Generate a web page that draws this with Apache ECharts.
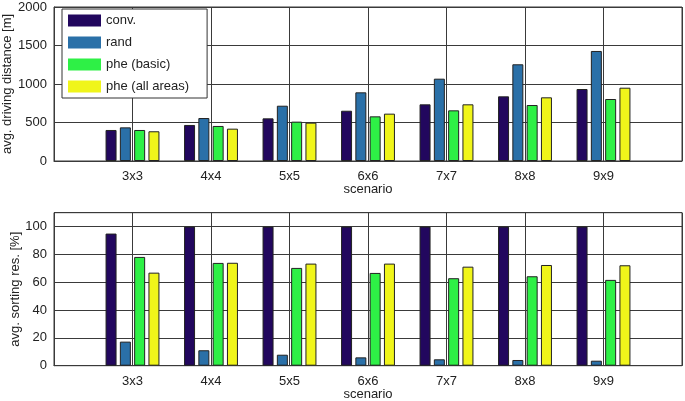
<!DOCTYPE html>
<html><head><meta charset="utf-8">
<script src="https://cdn.jsdelivr.net/npm/echarts@6/dist/echarts.min.js"></script>
<style>html,body{margin:0;padding:0;background:#fff}#c{width:685px;height:401px}</style>
</head><body><div id="c"></div>
<script>
const categories = ['', '3x3', '4x4', '5x5', '6x6', '7x7', '8x8', '9x9', ''];
const seriesNames = ['conv.', 'rand', 'phe (basic)', 'phe (all areas)'];
const colors = ['#22075e', '#2a70a8', '#2ef046', '#f0f51a'];
// avg. driving distance [m]
const distConv = [403, 468, 554, 653, 736, 840, 935];
const distRand = [437, 558, 718, 892, 1069, 1256, 1429];
const distBasic = [403, 455, 511, 580, 658, 727, 805];
const distAll = [386, 420, 498, 615, 736, 827, 952];
// avg. sorting res. [%]
const sortConv = [95, 100, 100, 100, 100, 100, 100];
const sortRand = [17.3, 11.1, 7.9, 6, 4.6, 4.1, 3.6];
const sortBasic = [78.2, 73.9, 70.3, 66.7, 62.9, 64.3, 61.7];
const sortAll = [66.9, 74, 73.4, 73.4, 71.2, 72.4, 72.2];
const distTicks = [0, 500, 1000, 1500, 2000];
const sortTicks = [0, 20, 40, 60, 80, 100];

const pad = arr => ['-'].concat(arr, ['-']);
const font = 'Liberation Sans, Arial, Helvetica, sans-serif';
const txt = '#222';
const gridCol = '#3a3a3a';

function xAxis(gridIndex) {
  return {
    type: 'category', gridIndex, data: categories, boundaryGap: false,
    axisLine: { show: true, lineStyle: { color: gridCol, width: 1 } },
    axisTick: { show: false },
    axisLabel: { color: txt, fontFamily: font, fontSize: 13, margin: 9, interval: 0 },
    splitLine: { show: true, interval: 0, lineStyle: { color: gridCol, width: 1 } },
    name: 'scenario', nameLocation: 'middle', nameGap: 22, nameMoveOverlap: false,
    nameTextStyle: { color: txt, fontFamily: font, fontSize: 13 }
  };
}
function yAxis(gridIndex, ticks, max, name, nameGap) {
  const step = ticks[1] - ticks[0];
  return {
    type: 'value', gridIndex, min: ticks[0], max: max, interval: step,
    axisLine: { show: true, lineStyle: { color: gridCol } },
    axisTick: { show: false },
    axisLabel: { color: txt, fontFamily: font, fontSize: 13, margin: 7,
      formatter: v => (ticks.indexOf(v) >= 0 ? String(v) : '') },
    splitLine: { show: true, lineStyle: { color: gridCol, width: 1 } },
    name, nameLocation: 'middle', nameGap, nameMoveOverlap: false,
    nameTextStyle: { color: txt, fontFamily: font, fontSize: 13 }
  };
}
function bars(data, idx, axisIdx) {
  return {
    type: 'bar', name: seriesNames[idx], xAxisIndex: axisIdx, yAxisIndex: axisIdx,
    data: pad(data), barWidth: 11, barGap: '30%',
    itemStyle: { color: colors[idx], borderColor: '#222', borderWidth: 1 },
    animation: false
  };
}

const chart = echarts.init(document.getElementById('c'), null, { renderer: 'canvas' });
chart.setOption({
  animation: false,
  color: colors,
  grid: [
    { left: 54, right: 3, top: 7, height: 154, show: true, borderColor: gridCol, borderWidth: 1, backgroundColor: '#fff', containLabel: false, outerBoundsMode: 'none' },
    { left: 54, right: 3, top: 212.7, height: 153, show: true, borderColor: gridCol, borderWidth: 1, backgroundColor: '#fff', containLabel: false, outerBoundsMode: 'none' }
  ],
  legend: {
    orient: 'vertical', left: 62, top: 9,
    data: seriesNames,
    icon: 'rect', itemWidth: 33, itemHeight: 12, itemGap: 9,
    padding: [5, 18, 5, 6],
    backgroundColor: '#fff', borderColor: '#333', borderWidth: 1,
    itemStyle: { borderWidth: 0 },
    textStyle: { color: txt, fontFamily: font, fontSize: 13 }
  },
  xAxis: [xAxis(0), xAxis(1)],
  yAxis: [
    yAxis(0, distTicks, 2000, 'avg. driving distance [m]', 40),
    yAxis(1, sortTicks, 110, 'avg. sorting res. [%]', 32)
  ],
  series: [
    bars(distConv, 0, 0), bars(distRand, 1, 0), bars(distBasic, 2, 0), bars(distAll, 3, 0),
    bars(sortConv, 0, 1), bars(sortRand, 1, 1), bars(sortBasic, 2, 1), bars(sortAll, 3, 1)
  ]
});
</script></body></html>
